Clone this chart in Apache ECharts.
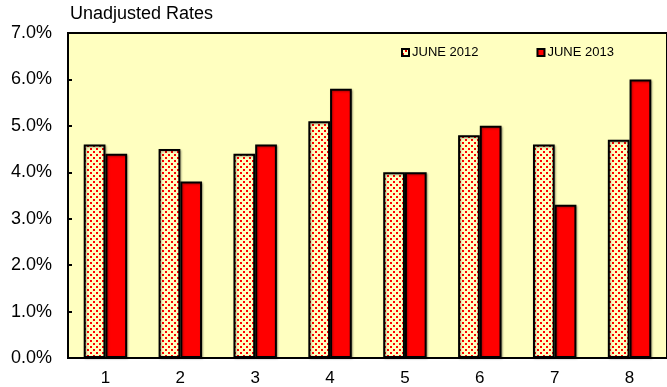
<!DOCTYPE html>
<html>
<head>
<meta charset="utf-8">
<script src="https://cdn.jsdelivr.net/npm/echarts@6/dist/echarts.min.js"></script>
<style>
  html, body { margin: 0; padding: 0; background: #fff; }
  #chart { width: 667px; height: 387px; }
</style>
</head>
<body>
<div id="chart"></div>
<script>
// data
const categories = ['1', '2', '3', '4', '5', '6', '7', '8'];
const june2012 = [4.6, 4.5, 4.4, 5.1, 4.0, 4.8, 4.6, 4.7];
const june2013 = [4.4, 3.8, 4.6, 5.8, 4.0, 5.0, 3.3, 6.0];
const seriesNames = ['JUNE 2012', 'JUNE 2013'];

const font = 'Liberation Sans, Arial, sans-serif';

// yellow tile with dotted red diagonals
function makeHatch() {
    const c = document.createElement('canvas');
    c.width = 6;
    c.height = 6;
    const ctx = c.getContext('2d');
    ctx.fillStyle = '#ffffc0';
    ctx.fillRect(0, 0, 6, 6);
    ctx.fillStyle = '#ff0000';
    ctx.fillRect(0, 4, 2, 2);
    ctx.fillRect(3, 1, 2, 2);
    return c;
}

const chart = echarts.init(document.getElementById('chart'));

const barStyle = {
    borderColor: '#000',
    borderWidth: 2,
    shadowColor: 'rgba(0,0,0,0.3)',
    shadowBlur: 2,
    shadowOffsetX: 1,
    shadowOffsetY: 1
};

const option = {
    animation: false,
    backgroundColor: '#fff',
    title: {
        text: 'Unadjusted Rates',
        left: 70,
        top: 5,
        padding: 0,
        textStyle: { fontFamily: font, fontSize: 18, fontWeight: 'normal', color: '#000' }
    },
    legend: {
        data: seriesNames,
        left: 401,
        top: 46,
        itemWidth: 7,
        itemHeight: 7,
        itemGap: 58,
        padding: 0,
        icon: 'rect',
        textStyle: { fontFamily: font, fontSize: 13, color: '#000', padding: [0, 0, 0, -2] }
    },
    grid: {
        left: 68,
        right: -1,
        top: 33,
        bottom: 29,
        show: true,
        backgroundColor: '#ffffc0',
        borderColor: '#000',
        borderWidth: 2
    },
    xAxis: {
        type: 'category',
        data: categories,
        axisLine: { lineStyle: { color: '#000', width: 2 } },
        axisTick: { show: false },
        axisLabel: { fontFamily: font, fontSize: 17, color: '#000', margin: 12 }
    },
    yAxis: {
        type: 'value',
        min: 0,
        max: 7,
        interval: 1,
        axisLine: { show: true, lineStyle: { color: '#000', width: 2 } },
        axisTick: { show: true, inside: true, length: 4, lineStyle: { color: '#000', width: 2 } },
        splitLine: { show: false },
        axisLabel: {
            fontFamily: font,
            fontSize: 18,
            color: '#000',
            margin: 16,
            formatter: v => v.toFixed(1) + '%'
        }
    },
    series: [
        {
            name: seriesNames[0],
            type: 'bar',
            data: june2012,
            barWidth: '29%',
            barGap: '0%',
            itemStyle: Object.assign({ color: { image: makeHatch(), repeat: 'repeat' } }, barStyle)
        },
        {
            name: seriesNames[1],
            type: 'bar',
            data: june2013,
            barWidth: '29%',
            itemStyle: Object.assign({ color: '#ff0000' }, barStyle)
        }
    ]
};

chart.setOption(option);
</script>
</body>
</html>
